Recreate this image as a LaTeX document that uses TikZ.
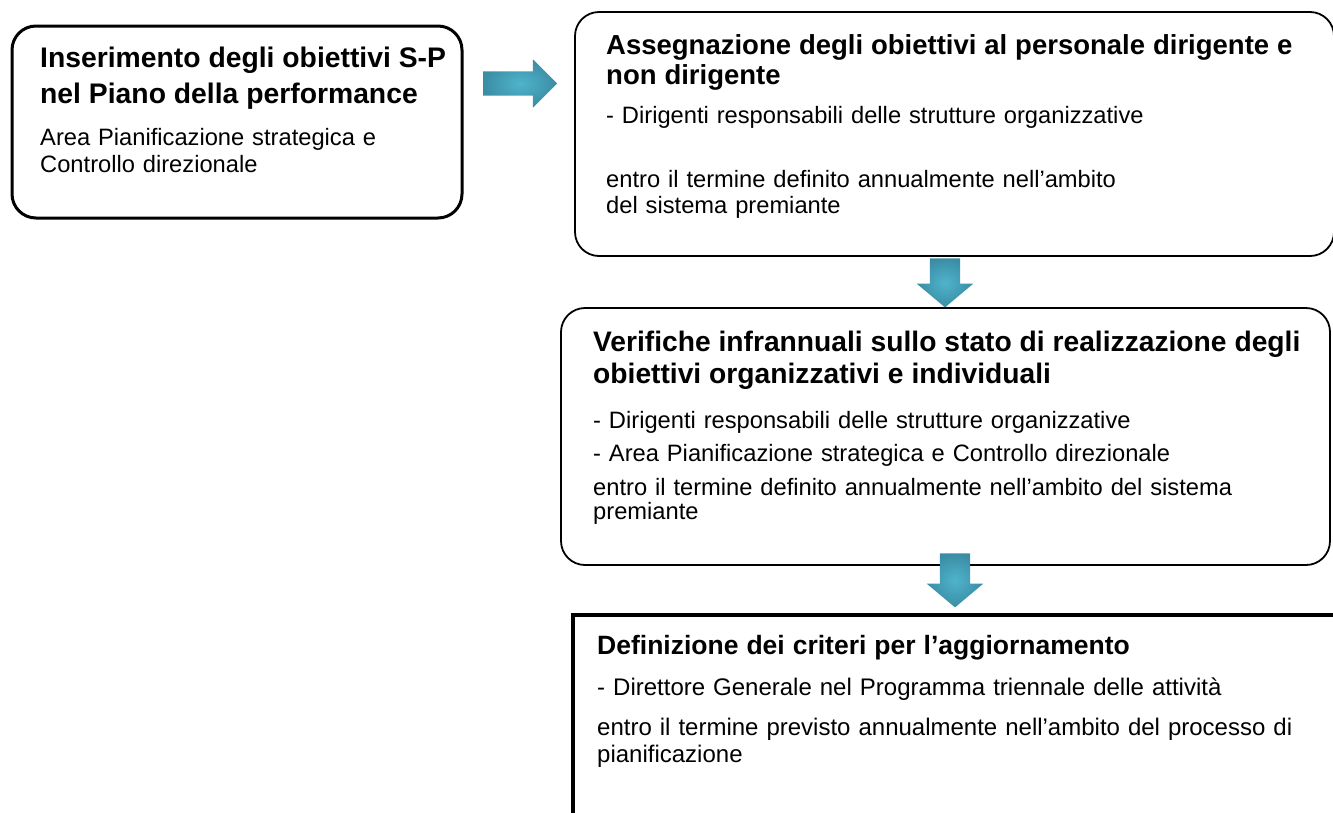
\documentclass[tikz,border=0pt]{standalone}
\usepackage{fontspec}
\setmainfont{Liberation Sans}
\usetikzlibrary{positioning, calc, shapes.arrows}

\definecolor{arrowdark}{HTML}{3A8DA4}
\definecolor{arrowlight}{HTML}{4FB4CC}

\newcommand{\boxtitle}[2][26.5]{{\bfseries\fontsize{#1}{25}\selectfont #2}}

\begin{document}
\begin{tikzpicture}[
  x=1pt, y=-1pt,
  stage/.style  = {draw, rounded corners=24pt, line width=1.8pt, inner sep=0pt},
  last/.style   = {draw, rectangle, line width=4pt, inner sep=0pt},
  txt/.style    = {anchor=base west, inner sep=0pt, align=left,
                   font=\fontsize{23.7}{25}\selectfont},
  flow/.style   = {single arrow, draw=none, inner color=arrowlight, outer color=arrowdark,
                   inner xsep=0pt},
]
  \useasboundingbox (0,0) rectangle (1333,812);
  \clip (0,0) rectangle (1333,812);

  % ── the four stages ───────────────────────────────────────────────────
  \node[stage, line width=3pt, minimum width=450pt, minimum height=192pt] (ins) at (237,122) {};
  \node[stage, minimum width=759pt, minimum height=244pt] (ass) at (954.5,134) {};
  \node[stage, minimum width=769pt, minimum height=257pt] (ver) at (945.5,436.5) {};
  \node[last, minimum width=827pt, minimum height=285pt] (def) at (986.5,757.5) {};

  % ── texts ─────────────────────────────────────────────────────────────
  \node[txt, text width=420pt] (ins-t) at (40,67)
    {\boxtitle[28.3]{Inserimento degli obiettivi S-P\\[9pt]nel Piano della performance}\\[17pt]
     Area Pianificazione strategica e\\[2pt]Controllo direzionale};

  \node[txt, text width=720pt] (ass-t) at (606,54)
    {\boxtitle[27.5]{Assegnazione degli obiettivi al personale dirigente e\\[4pt]non dirigente}\\[14pt]
     - Dirigenti responsabili delle strutture organizzative\\[39pt]
     entro il termine definito annualmente nell’ambito\\[1pt]del sistema premiante};

  \node[txt, text width=730pt] (ver-t) at (593,351)
    {\boxtitle[28.2]{Verifiche infrannuali sullo stato di realizzazione degli\\[5pt]obiettivi organizzativi e individuali}\\[20pt]
     - Dirigenti responsabili delle strutture organizzative\\[8pt]
     - Area Pianificazione strategica e Controllo direzionale\\[9pt]
     entro il termine definito annualmente nell’ambito del sistema\\[-1pt]premiante};

  \node[txt, text width=730pt, font=\fontsize{24}{25}\selectfont] (def-t) at (597,654)
    {\boxtitle{Definizione dei criteri per l’aggiornamento}\\[16pt]
     - Direttore Generale nel Programma triennale delle attività\\[15pt]
     entro il termine previsto annualmente nell’ambito del processo di\\[2pt]pianificazione};

  % ── block arrows between the stages ───────────────────────────────────
  \node[flow, inner ysep=12pt, single arrow head extend=12pt,
        minimum height=74pt, minimum width=48pt] (a1) at (514,83.5) {};
  \node[flow, inner ysep=15pt, single arrow head extend=13pt, single arrow tip angle=100,
        minimum height=49pt, minimum width=56pt, rotate=-90] (a2) at (945,276.5) {};
  \node[flow, inner ysep=15pt, single arrow head extend=13pt, single arrow tip angle=100,
        minimum height=54pt, minimum width=56pt, rotate=-90] (a3) at (955,574) {};

\end{tikzpicture}
\end{document}
